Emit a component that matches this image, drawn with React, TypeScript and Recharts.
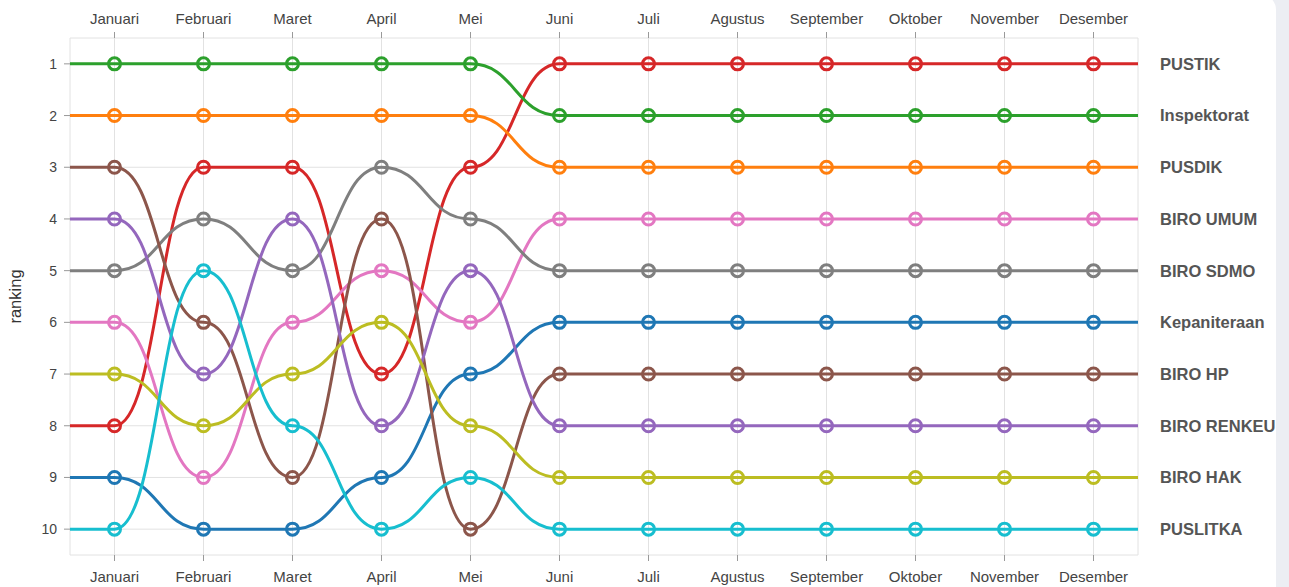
import React from 'react';
import { LineChart, Line, XAxis, YAxis, CartesianGrid, Label } from 'recharts';

const months = ['Januari', 'Februari', 'Maret', 'April', 'Mei', 'Juni', 'Juli', 'Agustus', 'September', 'Oktober', 'November', 'Desember'];
const rankTicks = [1, 2, 3, 4, 5, 6, 7, 8, 9, 10];

const pustik = [8, 3, 3, 7, 3, 1, 1, 1, 1, 1, 1, 1];
const inspektorat = [1, 1, 1, 1, 1, 2, 2, 2, 2, 2, 2, 2];
const pusdik = [2, 2, 2, 2, 2, 3, 3, 3, 3, 3, 3, 3];
const biroUmum = [6, 9, 6, 5, 6, 4, 4, 4, 4, 4, 4, 4];
const biroSdmo = [5, 4, 5, 3, 4, 5, 5, 5, 5, 5, 5, 5];
const kepaniteraan = [9, 10, 10, 9, 7, 6, 6, 6, 6, 6, 6, 6];
const biroHp = [3, 6, 9, 4, 10, 7, 7, 7, 7, 7, 7, 7];
const biroRenkeu = [4, 7, 4, 8, 5, 8, 8, 8, 8, 8, 8, 8];
const biroHak = [7, 8, 7, 6, 8, 9, 9, 9, 9, 9, 9, 9];
const puslitka = [10, 5, 8, 10, 9, 10, 10, 10, 10, 10, 10, 10];

const seriesList = [
  { key: 'pustik', name: 'PUSTIK', values: pustik, color: '#d62728' },
  { key: 'inspektorat', name: 'Inspektorat', values: inspektorat, color: '#2ca02c' },
  { key: 'pusdik', name: 'PUSDIK', values: pusdik, color: '#ff7f0e' },
  { key: 'biroUmum', name: 'BIRO UMUM', values: biroUmum, color: '#e377c2' },
  { key: 'biroSdmo', name: 'BIRO SDMO', values: biroSdmo, color: '#7f7f7f' },
  { key: 'kepaniteraan', name: 'Kepaniteraan', values: kepaniteraan, color: '#1f77b4' },
  { key: 'biroHp', name: 'BIRO HP', values: biroHp, color: '#8c564b' },
  { key: 'biroRenkeu', name: 'BIRO RENKEU', values: biroRenkeu, color: '#9467bd' },
  { key: 'biroHak', name: 'BIRO HAK', values: biroHak, color: '#bcbd22' },
  { key: 'puslitka', name: 'PUSLITKA', values: puslitka, color: '#17becf' },
];

const last = months.length - 1;

// rows for each month plus half-step extensions at both ends
const data: any[] = [];
{
  const startRow: any = { x: -0.5, ext: true };
  seriesList.forEach((s) => (startRow[s.key] = s.values[0]));
  data.push(startRow);
  months.forEach((m, i) => {
    const row: any = { x: i, month: m, ext: false };
    seriesList.forEach((s) => (row[s.key] = s.values[i]));
    data.push(row);
  });
  const endRow: any = { x: last + 0.5, ext: true };
  seriesList.forEach((s) => (endRow[s.key] = s.values[last]));
  data.push(endRow);
}

const monthTicks = months.map((_, i) => i);
const endName = (rank: number) => {
  const s = seriesList.find((x) => x.values[last] === rank);
  return s ? s.name : '';
};

const makeDot = (color: string, key: string) => (props: any) => {
  const { cx, cy, payload, index } = props;
  if (!payload || payload.ext || cx == null || cy == null) {
    return <g key={`${key}-d-${index}`} />;
  }
  return <circle key={`${key}-d-${index}`} cx={cx} cy={cy} r={6} fill="none" stroke={color} strokeWidth={3} />;
};

const FONT = '"Liberation Sans", Arial, Helvetica, sans-serif';

export default function App() {
  return (
    <div style={{ position: 'absolute', left: 0, top: 0, width: 1289, height: 587, background: '#eceef3', overflow: 'hidden', fontFamily: FONT }}>
      <div style={{ position: 'absolute', left: -20, top: -6, width: 1296, height: 620, background: '#ffffff', borderRadius: 16 }} />
      <div style={{ position: 'absolute', left: 0, top: 0 }}>
        <LineChart width={1289} height={587} data={data} margin={{ top: 0, right: 0, bottom: 0, left: 0 }}>
          <CartesianGrid xAxisId="bottom" yAxisId="left" stroke="#e2e2e2" strokeWidth={1} />
          <XAxis
            xAxisId="top"
            orientation="top"
            type="number"
            dataKey="x"
            domain={[-0.5, last + 0.5]}
            ticks={monthTicks}
            interval={0}
            tickFormatter={(v: number) => months[v] ?? ''}
            axisLine={false}
            tickLine={{ stroke: '#999' }}
            tickSize={6}
            tickMargin={8}
            height={38}
            tick={{ fill: '#444', fontSize: 15 }}
            allowDataOverflow
          />
          <XAxis
            xAxisId="bottom"
            orientation="bottom"
            type="number"
            dataKey="x"
            domain={[-0.5, last + 0.5]}
            ticks={monthTicks}
            interval={0}
            tickFormatter={(v: number) => months[v] ?? ''}
            axisLine={false}
            tickLine={{ stroke: '#999' }}
            tickSize={6}
            tickMargin={10}
            height={32}
            tick={{ fill: '#444', fontSize: 15 }}
            allowDataOverflow
          />
          <YAxis
            yAxisId="left"
            orientation="left"
            type="number"
            domain={[0.5, 10.5]}
            reversed
            ticks={rankTicks}
            interval={0}
            axisLine={false}
            tickLine={{ stroke: '#999' }}
            tickSize={6}
            tickMargin={7}
            width={70}
            tick={{ fill: '#444', fontSize: 14 }}
            allowDataOverflow
          >
            <Label
              content={(p: any) => {
                const vb = p.viewBox || { x: 0, y: 38, width: 70, height: 517 };
                const cx = vb.x + 15;
                const cy = vb.y + vb.height / 2;
                return (
                  <text x={cx} y={cy} transform={`rotate(-90, ${cx}, ${cy})`} textAnchor="middle" dominantBaseline="central" fill="#333" fontSize={16.5}>
                    ranking
                  </text>
                );
              }}
            />
          </YAxis>
          <YAxis
            yAxisId="right"
            orientation="right"
            type="number"
            domain={[0.5, 10.5]}
            reversed
            ticks={rankTicks}
            interval={0}
            axisLine={false}
            tickLine={false}
            tickSize={6}
            tickMargin={16}
            width={151}
            tickFormatter={(v: number) => endName(v)}
            tick={{ fill: '#555', fontSize: 16.5, fontWeight: 'bold' }}
            allowDataOverflow
          />
          {seriesList.map((s) => (
            <Line
              key={s.key}
              xAxisId="bottom"
              yAxisId="left"
              dataKey={s.key}
              name={s.name}
              type="bumpX"
              stroke={s.color}
              strokeWidth={3}
              dot={makeDot(s.color, s.key)}
              activeDot={false}
              isAnimationActive={false}
            />
          ))}
        </LineChart>
      </div>
    </div>
  );
}
